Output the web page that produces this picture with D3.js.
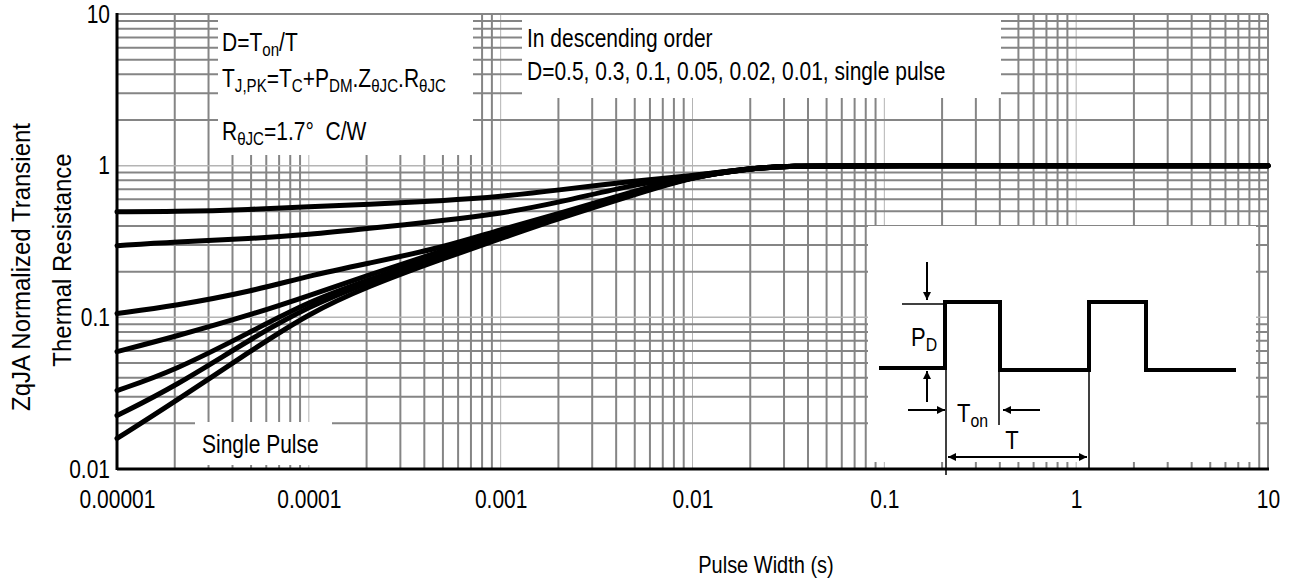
<!DOCTYPE html>
<html>
<head>
<meta charset="utf-8">
<script src="https://cdn.jsdelivr.net/npm/d3@7"></script>
<style>
  body { margin: 0; background: #fff; }
  svg { display: block; }
  text { font-family: "Liberation Sans", Arial, sans-serif; fill: #000; }
</style>
</head>
<body>
<svg id="chart" width="1294" height="582"></svg>
<script>
// pulse width (s) sample points
const pulseWidth = [1e-5, 2e-5, 5e-5, 1e-4, 2e-4, 5e-4, 1e-3, 2e-3, 5e-3, 1e-2, 2e-2, 3e-2, 0.1, 1, 10];
// normalized transient thermal resistance per duty cycle
const zD05    = [0.497, 0.497, 0.513, 0.537, 0.553, 0.588, 0.625, 0.690, 0.796, 0.859, 0.955, 1, 1, 1, 1];
const zD03    = [0.297, 0.315, 0.330, 0.351, 0.384, 0.434, 0.483, 0.570, 0.755, 0.859, 0.955, 1, 1, 1, 1];
const zD01    = [0.106, 0.119, 0.148, 0.188, 0.226, 0.288, 0.380, 0.480, 0.684, 0.859, 0.955, 1, 1, 1, 1];
const zD005   = [0.0594, 0.0746, 0.104, 0.139, 0.188, 0.275, 0.367, 0.468, 0.674, 0.846, 0.955, 1, 1, 1, 1];
const zD002   = [0.0329, 0.0445, 0.0805, 0.127, 0.175, 0.259, 0.351, 0.461, 0.664, 0.846, 0.955, 1, 1, 1, 1];
const zD001   = [0.0225, 0.0349, 0.0724, 0.118, 0.169, 0.251, 0.340, 0.454, 0.654, 0.846, 0.955, 1, 1, 1, 1];
const zSingle = [0.0159, 0.0278, 0.0603, 0.106, 0.159, 0.244, 0.330, 0.448, 0.644, 0.846, 0.955, 1, 1, 1, 1];
const series = [zD05, zD03, zD01, zD005, zD002, zD001, zSingle];

const xTicks = [1e-5, 1e-4, 1e-3, 1e-2, 1e-1, 1, 10];
const xTickLabels = ["0.00001", "0.0001", "0.001", "0.01", "0.1", "1", "10"];
const yTicks = [0.01, 0.1, 1, 10];
const yTickLabels = ["0.01", "0.1", "1", "10"];

const svg = d3.select("#chart");
const L = 117, R = 1268, T = 14, B = 469;
const SY = 1.2; // the source text is drawn a bit tall

let x = d3.scaleLog().domain([1e-5, 10]).range([L, R]);
let y = d3.scaleLog().domain([0.01, 10]).range([B, T]);

// grid
let minorX = [], minorY = [];
for (let e = -5; e <= 0; e++) for (let m = 1; m <= 9; m++) minorX.push({ v: m * Math.pow(10, e), major: m === 1 });
for (let e = -2; e <= 0; e++) for (let m = 1; m <= 9; m++) minorY.push({ v: m * Math.pow(10, e), major: m === 1 });

const grid = svg.append("g");
grid.selectAll("line.gx").data(minorX).enter().append("line")
    .attr("x1", d => x(d.v)).attr("x2", d => x(d.v))
    .attr("y1", T).attr("y2", B)
    .attr("stroke", d => d.major ? "#b4b4b4" : "#858585")
    .attr("stroke-width", d => d.major ? 1 : 2);
grid.selectAll("line.gy").data(minorY).enter().append("line")
    .attr("y1", d => y(d.v)).attr("y2", d => y(d.v))
    .attr("x1", L).attr("x2", R)
    .attr("stroke", d => d.major ? "#b4b4b4" : "#858585")
    .attr("stroke-width", d => d.major ? 1.5 : 2);
// frame top / right
grid.append("line").attr("x1", L).attr("x2", R).attr("y1", T).attr("y2", T).attr("stroke", "#858585").attr("stroke-width", 2);
grid.append("line").attr("x1", R).attr("x2", R).attr("y1", T).attr("y2", B).attr("stroke", "#858585").attr("stroke-width", 2);

// white boxes behind the notes
const boxes = [
    [218, 15, 255, 140],
    [522, 15, 479, 83],
    [868, 226, 388, 236],
    [195, 422, 137, 43]
];
svg.append("g").selectAll("rect").data(boxes).enter().append("rect")
    .attr("x", d => d[0]).attr("y", d => d[1])
    .attr("width", d => d[2]).attr("height", d => d[3])
    .attr("fill", "#fff");

// curves
let line = d3.line()
    .x((d, i) => x(pulseWidth[i]))
    .y(d => y(d))
    .curve(d3.curveBasis);

svg.append("g").selectAll("path").data(series).enter().append("path")
    .attr("d", d => line(d))
    .attr("fill", "none")
    .attr("stroke", "#000")
    .attr("stroke-width", 5)
    .attr("stroke-linecap", "round");

// axes
let xAxis = d3.axisBottom(x).tickValues(xTicks).tickSize(0)
    .tickFormat((d, i) => xTickLabels[i]);
let gx = svg.append("g").attr("transform", `translate(0,${B})`).call(xAxis);
gx.select(".domain").remove();
gx.selectAll("text").attr("font-size", 21).style("font-family", null)
    .attr("y", 0).attr("dy", null)
    .attr("transform", `translate(0,39) scale(1,${SY})`);

let yAxis = d3.axisLeft(y).tickValues(yTicks).tickSize(0)
    .tickFormat((d, i) => yTickLabels[i]);
let gy = svg.append("g").attr("transform", `translate(${L},0)`).call(yAxis);
gy.select(".domain").remove();
gy.selectAll("text").attr("font-size", 21).style("font-family", null)
    .attr("x", 0).attr("dy", null)
    .attr("transform", `translate(-7,8) scale(1,${SY})`);

svg.append("line").attr("x1", L).attr("x2", R + 1).attr("y1", B).attr("y2", B).attr("stroke", "#000").attr("stroke-width", 3);
svg.append("line").attr("x1", L).attr("x2", L).attr("y1", T - 1).attr("y2", B + 1).attr("stroke", "#000").attr("stroke-width", 3);

// plain text helper with the vertical stretch
function label(px, py, size, str, anchor) {
    return svg.append("text")
        .attr("transform", `translate(${px},${py}) scale(1,${SY})`)
        .attr("text-anchor", anchor || "start")
        .attr("font-size", size).text(str);
}

// axis titles
label(766, 573, 20, "Pulse Width (s)", "middle");
svg.append("text").attr("transform", "translate(30,267) rotate(-90) scale(1,1.1)").attr("text-anchor", "middle").attr("font-size", 24).text("ZqJA Normalized Transient");
svg.append("text").attr("transform", "translate(71,260) rotate(-90) scale(1,1.1)").attr("text-anchor", "middle").attr("font-size", 24).text("Thermal Resistance");

// rich text helper: parts = [[text, isSub], ...]
function rich(px, py, size, parts) {
    let t = svg.append("text")
        .attr("transform", `translate(${px},${py}) scale(1,${SY})`)
        .attr("font-size", size);
    let prevSub = false;
    parts.forEach(p => {
        let sub = p[1];
        t.append("tspan")
            .attr("font-size", sub ? size * 0.72 : size)
            .attr("dy", sub && !prevSub ? 4 : (!sub && prevSub ? -4 : 0))
            .text(p[0]);
        prevSub = sub;
    });
    return t;
}

rich(222, 51, 21, [["D=T", 0], ["on", 1], ["/T", 0]]);
rich(222, 87, 21, [["T", 0], ["J,PK", 1], ["=T", 0], ["C", 1], ["+P", 0], ["DM", 1], [".Z", 0], ["θJC", 1], [".R", 0], ["θJC", 1]]);
rich(222, 140, 21, [["R", 0], ["θJC", 1], ["=1.7° \u00a0C/W", 0]]);

label(527, 47, 21, "In descending order");
label(527, 80, 21, "D=0.5, 0.3, 0.1, 0.05, 0.02, 0.01, single pulse");
label(202, 453, 21, "Single Pulse");

// pulse diagram
const defs = svg.append("defs");
defs.append("marker").attr("id", "ah").attr("viewBox", "0 0 10 10").attr("refX", 10).attr("refY", 5)
    .attr("markerWidth", 4).attr("markerHeight", 4).attr("orient", "auto-start-reverse")
    .attr("markerUnits", "strokeWidth")
    .append("path").attr("d", "M0,0 L10,5 L0,10 z").attr("fill", "#000");

const pd = svg.append("g");
pd.append("path")
    .attr("d", "M879,368 H945 V302 H1000 V370 H1089 V302 H1146 V370 H1236")
    .attr("fill", "none").attr("stroke", "#000").attr("stroke-width", 4);
const thin = [
    [902, 304, 945, 304],
    [946, 370, 946, 475],
    [999, 370, 999, 425],
    [1089, 370, 1089, 470]
];
pd.selectAll("line.thin").data(thin).enter().append("line")
    .attr("x1", d => d[0]).attr("y1", d => d[1]).attr("x2", d => d[2]).attr("y2", d => d[3])
    .attr("stroke", "#000").attr("stroke-width", 1.5);
const arrows = [
    [927, 262, 927, 300, false],
    [927, 402, 927, 371, false],
    [908, 410, 945, 410, false],
    [1040, 410, 1003, 410, false],
    [948, 457, 1087, 457, true]
];
pd.selectAll("line.arr").data(arrows).enter().append("line")
    .attr("x1", d => d[0]).attr("y1", d => d[1]).attr("x2", d => d[2]).attr("y2", d => d[3])
    .attr("stroke", "#000").attr("stroke-width", 2)
    .attr("marker-end", "url(#ah)")
    .attr("marker-start", d => d[4] ? "url(#ah)" : null);

rich(911, 346, 22, [["P", 0], ["D", 1]]);
rich(957, 422, 22, [["T", 0], ["on", 1]]);
label(1012, 449, 22, "T", "middle");
</script>
</body>
</html>
